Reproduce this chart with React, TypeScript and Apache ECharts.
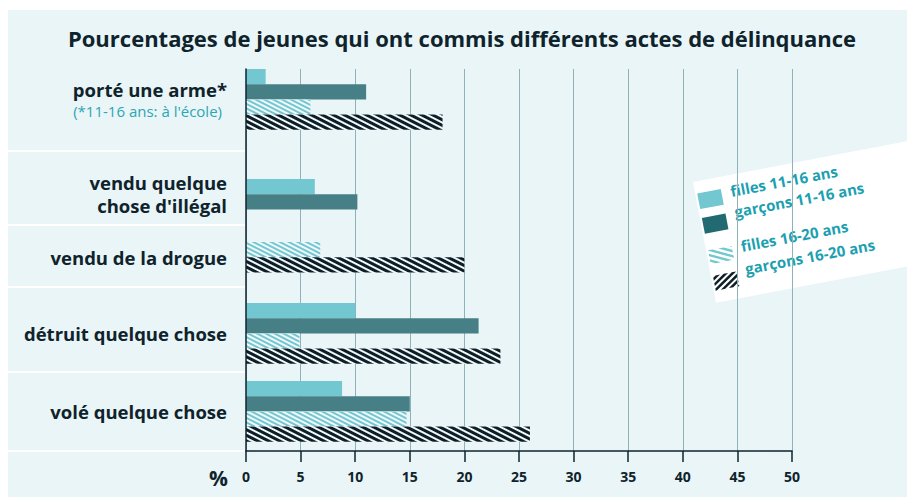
import React, { useEffect, useRef } from "react";
import * as echarts from "echarts";

// ---------- data ----------
const categories = [
  "porté une arme*",
  "vendu quelque\nchose d'illégal",
  "vendu de la drogue",
  "détruit quelque chose",
  "volé quelque chose",
];
const categoryNote = "(*11-16 ans: à l'école)";
const seriesNames = ["filles 11-16 ans", "garçons 11-16 ans", "filles 16-20 ans", "garçons 16-20 ans"];
const fillesJeunes = [1.8, 6.3, null, 10.0, 8.8];
const garconsJeunes = [11.0, 10.2, null, 21.3, 15.0];
const fillesAines = [5.9, null, 6.8, 4.9, 14.7];
const garconsAines = [18.0, null, 20.0, 23.3, 26.0];
const xMin = 0;
const xMax = 50;
const xInterval = 5;
const titleText = "Pourcentages de jeunes qui ont commis différents actes de délinquance";
const unitLabel = "%";

// ---------- styling / layout ----------
const FONT = "'Open Sans', Lato, sans-serif";
const DARK = "#0f232c";
const TEAL_TEXT = "#1c9fb0";
const PANEL = "#eaf5f7";
const PLOT_LEFT = 246;
const PLOT_RIGHT = 792;
const PLOT_TOP = 69;
const PLOT_BOTTOM = 451;
const BAR_H = 15.2;
const bandTops = [69, 179, 242, 303, 381];
const separatorYs = [151, 225, 287, 372, 451];

const itemStyles: any[] = [
  { color: "#72c7d1" },
  { color: "#477f86" },
  {
    color: "#f2f9fb",
    decal: { symbol: "rect", dashArrayX: [1, 0], dashArrayY: [2, 2], rotation: 0.47, color: "#72c7d1" },
  },
  {
    color: "#f2f9fb",
    decal: { symbol: "rect", dashArrayX: [1, 0], dashArrayY: [2.2, 1.8], rotation: 0.47, color: "#0d1e27" },
  },
];

// clip polygon to rect (Sutherland-Hodgman)
function clipPoly(pts: number[][], x0: number, y0: number, x1: number, y1: number) {
  const edges: [(p: number[]) => boolean, (a: number[], b: number[]) => number[]][] = [
    [(p) => p[0] >= x0, (a, b) => { const t = (x0 - a[0]) / (b[0] - a[0]); return [x0, a[1] + t * (b[1] - a[1])]; }],
    [(p) => p[0] <= x1, (a, b) => { const t = (x1 - a[0]) / (b[0] - a[0]); return [x1, a[1] + t * (b[1] - a[1])]; }],
    [(p) => p[1] >= y0, (a, b) => { const t = (y0 - a[1]) / (b[1] - a[1]); return [a[0] + t * (b[0] - a[0]), y0]; }],
    [(p) => p[1] <= y1, (a, b) => { const t = (y1 - a[1]) / (b[1] - a[1]); return [a[0] + t * (b[0] - a[0]), y1]; }],
  ];
  let out = pts;
  for (const [inside, inter] of edges) {
    const input = out;
    out = [];
    for (let i = 0; i < input.length; i++) {
      const cur = input[i];
      const prev = input[(i + input.length - 1) % input.length];
      const cIn = inside(cur);
      const pIn = inside(prev);
      if (cIn) {
        if (!pIn) out.push(inter(prev, cur));
        out.push(cur);
      } else if (pIn) {
        out.push(inter(prev, cur));
      }
    }
    if (!out.length) break;
  }
  return out;
}

function stripes(x: number, y: number, w: number, h: number, angleDeg: number, period: number, thick: number, color: string) {
  const a = (angleDeg * Math.PI) / 180;
  const d = [Math.cos(a), Math.sin(a)];
  const n = [-Math.sin(a), Math.cos(a)];
  const cx = x + w / 2;
  const cy = y + h / 2;
  const L = w + h;
  const els: any[] = [];
  for (let c = -L; c <= L; c += period) {
    const bx = cx + n[0] * c;
    const by = cy + n[1] * c;
    const poly = [
      [bx - d[0] * L, by - d[1] * L],
      [bx + d[0] * L, by + d[1] * L],
      [bx + d[0] * L + n[0] * thick, by + d[1] * L + n[1] * thick],
      [bx - d[0] * L + n[0] * thick, by - d[1] * L + n[1] * thick],
    ];
    const clipped = clipPoly(poly, x, y, x + w, y + h);
    if (clipped.length >= 3) {
      els.push({ type: "polygon", shape: { points: clipped }, style: { fill: color } });
    }
  }
  return els;
}

export default function App() {
  const ref = useRef<HTMLDivElement>(null);

  useEffect(() => {
    if (!ref.current) return;
    const chart = echarts.init(ref.current, undefined, { renderer: "svg" });
    const values = [fillesJeunes, garconsJeunes, fillesAines, garconsAines];

    const grids: any[] = [
      { left: PLOT_LEFT, right: 907 - PLOT_RIGHT, top: PLOT_TOP, bottom: 497 - PLOT_BOTTOM },
    ];
    const xAxes: any[] = [
      {
        gridIndex: 0,
        type: "value",
        min: xMin,
        max: xMax,
        interval: xInterval,
        axisLine: { show: true, lineStyle: { color: DARK, width: 1.5 } },
        axisTick: { show: true, length: 11, lineStyle: { color: DARK, width: 1.5 } },
        axisLabel: { margin: 18, fontFamily: FONT, fontWeight: "bold", fontSize: 14, color: DARK },
        splitLine: { show: true, lineStyle: { color: "#8fb2b9", width: 1 } },
      },
    ];
    const yAxes: any[] = [
      {
        gridIndex: 0,
        type: "value",
        min: 0,
        max: 1,
        z: 5,
        axisLine: { show: true, lineStyle: { color: DARK, width: 1.5 } },
        axisTick: { show: false },
        axisLabel: { show: false },
        splitLine: { show: false },
      },
    ];
    const series: any[] = [];

    categories.forEach((cat, i) => {
      const present = [0, 1, 2, 3].filter((k) => values[k][i] !== null && values[k][i] !== undefined);
      const gi = i + 1;
      grids.push({
        left: PLOT_LEFT,
        right: 907 - PLOT_RIGHT,
        top: bandTops[i],
        height: present.length * BAR_H,
      });
      xAxes.push({ gridIndex: gi, type: "value", min: xMin, max: xMax, show: false });
      yAxes.push({
        gridIndex: gi,
        type: "category",
        data: [cat],
        axisLine: { show: false },
        axisTick: { show: false },
        splitLine: { show: false },
        axisLabel: {
          margin: 19,
          fontFamily: FONT,
          fontWeight: "bold",
          fontSize: 18.5,
          lineHeight: 22.5,
          color: DARK,
          formatter: i === 0 ? (v: string) => `{a|${v}}\n{b|${categoryNote}}` : undefined,
          rich: {
            a: { fontFamily: FONT, fontWeight: "bold", fontSize: 18.5, lineHeight: 22.5, color: DARK, align: "right" },
            b: {
              fontFamily: FONT,
              fontWeight: "normal",
              fontSize: 15,
              lineHeight: 19,
              color: "#2aa6b4",
              align: "right",
              padding: [0, 5, 0, 0],
            },
          },
        },
      });
      present.forEach((k) => {
        series.push({
          type: "bar",
          name: seriesNames[k],
          xAxisIndex: gi,
          yAxisIndex: gi,
          data: [values[k][i]],
          barWidth: BAR_H,
          barGap: "0%",
          barCategoryGap: 0,
          itemStyle: itemStyles[k],
          silent: true,
        });
      });
    });

    const legendTextX = 35;
    const legendTexts = [16, 37, 72, 95];
    const legendGroup = {
      type: "group",
      x: 693,
      y: 182,
      rotation: 0.1885,
      z: 100,
      children: [
        { type: "rect", shape: { x: 0, y: 0, width: 270, height: 123 }, style: { fill: "#ffffff" } },
        { type: "rect", shape: { x: 2, y: 12, width: 24, height: 16 }, style: { fill: "#72c7d1" } },
        { type: "rect", shape: { x: 2, y: 37, width: 24, height: 16 }, style: { fill: "#226a72" } },
        ...stripes(2, 70, 24, 14, 26, 5, 2.4, "#72c7d1"),
        ...stripes(2, 96, 24, 15, -34, 4.6, 2.5, "#0d1e27"),
        ...seriesNames.map((nm, k) => ({
          type: "text",
          x: legendTextX,
          y: legendTexts[k],
          style: {
            text: nm,
            fill: TEAL_TEXT,
            font: `bold 15px ${FONT}`,
            textAlign: "left",
            textVerticalAlign: "middle",
          },
        })),
      ],
    };

    chart.setOption({
      animation: false,
      backgroundColor: PANEL,
      grid: grids,
      xAxis: xAxes,
      yAxis: yAxes,
      series,
      graphic: [
        { type: "rect", shape: { x: 0, y: 0, width: 907, height: 10 }, style: { fill: "#ffffff" }, z: 50 },
        { type: "rect", shape: { x: 0, y: 0, width: 8, height: 497 }, style: { fill: "#ffffff" }, z: 50 },
        ...separatorYs.map((y) => ({
          type: "line",
          shape: { x1: 8, y1: y, x2: 245, y2: y },
          style: { stroke: "#ffffff", lineWidth: 2 },
          z: 50,
        })),
        {
          type: "text",
          x: 462,
          y: 38,
          z: 50,
          style: {
            text: titleText,
            fill: DARK,
            font: `bold 22px ${FONT}`,
            textAlign: "center",
            textVerticalAlign: "middle",
          },
        },
        {
          type: "text",
          x: 228,
          y: 478,
          z: 50,
          style: {
            text: unitLabel,
            fill: DARK,
            font: `bold 21px ${FONT}`,
            textAlign: "right",
            textVerticalAlign: "middle",
          },
        },
        legendGroup,
      ],
    });
    return () => chart.dispose();
  }, []);

  return (
    <div
      ref={ref}
      style={{ position: "absolute", left: 0, top: 0, width: 907, height: 497 }}
    />
  );
}
